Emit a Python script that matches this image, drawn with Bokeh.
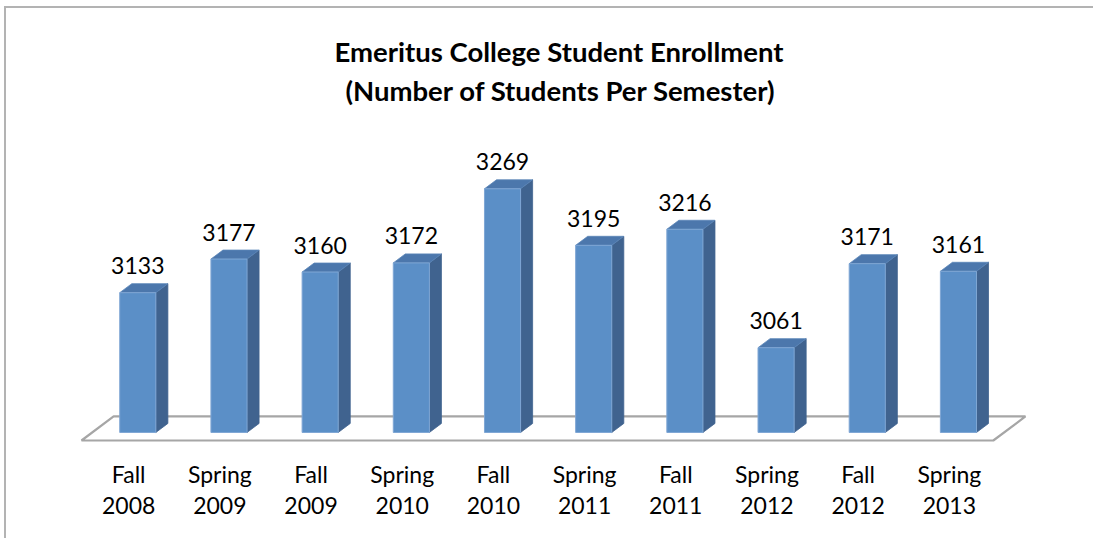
from bokeh.plotting import figure
from bokeh.models import Range1d, Title, ColumnDataSource, FixedTicker
from bokeh.embed import file_html
from bokeh.resources import INLINE

# ---- data ----
title_lines = ["Emeritus College Student Enrollment", "(Number of Students Per Semester)"]
semesters = ["Fall\n2008", "Spring\n2009", "Fall\n2009", "Spring\n2010", "Fall\n2010",
             "Spring\n2011", "Fall\n2011", "Spring\n2012", "Fall\n2012", "Spring\n2013"]
enrollment = [3133, 3177, 3160, 3172, 3269, 3195, 3216, 3061, 3171, 3161]
axis_floor = 2950

# ---- style / geometry constants ----
BAR_SHIFT = 0.1      # bars sit slightly right of the category label (3D perspective)
HALF_W = 0.198
DEPTH_X = 0.132
DEPTH_Y = 11.8
FLOOR_FRONT = -0.89
FLOOR_BACK = 1.78
FONT = "Lato"

FRONT = "#5B8FC7"
SIDE = "#40638F"
TOP = "#4C77AC"
EDGE = "#7FA6D4"
GREY = "#A6A6A6"

n = len(enrollment)
xs = [i + BAR_SHIFT for i in range(n)]

p = figure(frame_width=1003, frame_height=340,
           x_range=Range1d(-1, n), y_range=Range1d(axis_floor - 23.6, axis_floor + 421.5),
           output_backend="svg", toolbar_location=None,
           min_border_left=31, min_border_right=53, min_border_top=102, min_border_bottom=88)
p.title = None
p.outline_line_color = None
p.grid.visible = False
p.yaxis.visible = False
p.background_fill_color = "white"
p.border_fill_color = "white"
p.styles = {"border-left": "2px solid #B3B3B3", "border-top": "2px solid #B3B3B3",
            "margin-left": "4px", "margin-top": "6px"}

# title (second line first: it sits closest to the plot)
p.add_layout(Title(text=title_lines[1], align="left", offset=308, text_font=FONT,
                   text_font_size="27.5px", text_font_style="bold", text_color="black",
                   standoff=8), "above")
p.add_layout(Title(text=title_lines[0], align="left", offset=297, text_font=FONT,
                   text_font_size="27.5px", text_font_style="bold", text_color="black",
                   standoff=0), "above")

# floor
fl_x = [-0.5 + BAR_SHIFT + FLOOR_FRONT * DEPTH_X, n - 0.5 + BAR_SHIFT + FLOOR_FRONT * DEPTH_X,
        n - 0.5 + BAR_SHIFT + FLOOR_BACK * DEPTH_X, -0.5 + BAR_SHIFT + FLOOR_BACK * DEPTH_X]
fl_y = [axis_floor + FLOOR_FRONT * DEPTH_Y, axis_floor + FLOOR_FRONT * DEPTH_Y,
        axis_floor + FLOOR_BACK * DEPTH_Y, axis_floor + FLOOR_BACK * DEPTH_Y]
p.patch(fl_x, fl_y, fill_color="white", line_color=GREY, line_width=2.2)

# side and top faces
side_xs, side_ys, top_xs, top_ys = [], [], [], []
for x, v in zip(xs, enrollment):
    r = x + HALF_W
    l = x - HALF_W
    side_xs.append([r, r + DEPTH_X, r + DEPTH_X, r])
    side_ys.append([axis_floor, axis_floor + DEPTH_Y, v + DEPTH_Y, v])
    top_xs.append([l, r, r + DEPTH_X, l + DEPTH_X])
    top_ys.append([v, v, v + DEPTH_Y, v + DEPTH_Y])

p.patches(side_xs, side_ys, fill_color=SIDE, line_color=SIDE, line_width=0.8)
p.patches(top_xs, top_ys, fill_color=TOP, line_color="#5A85B8", line_width=0.8)

src = ColumnDataSource(dict(x=xs, top=enrollment, lab=[str(v) for v in enrollment]))
p.vbar(x="x", width=2 * HALF_W, bottom=axis_floor, top="top", source=src,
       fill_color=FRONT, line_color=EDGE, line_width=1)

p.text(x="x", y="top", text="lab", source=src, text_align="center",
       text_baseline="alphabetic", y_offset=-27, text_font={"value": FONT},
       text_font_size="23px", text_color="black")

# x axis
ax = p.xaxis[0]
ax.ticker = FixedTicker(ticks=list(range(n)))
ax.major_label_overrides = {i: s for i, s in enumerate(semesters)}
ax.axis_line_color = None
ax.major_tick_line_color = None
ax.minor_tick_line_color = None
ax.major_label_standoff = 3
ax.major_label_text_font = FONT
ax.major_label_text_font_size = "23px"
ax.major_label_text_color = "black"
ax.major_label_text_line_height = 1.13

open("out.html", "w").write(file_html(p, INLINE))
